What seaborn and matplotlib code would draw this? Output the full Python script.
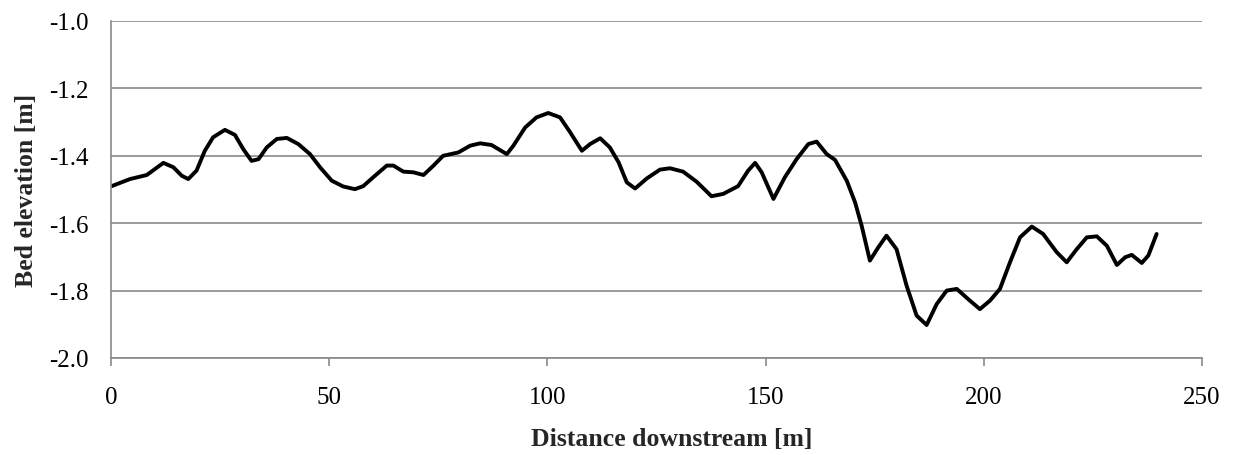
import matplotlib
matplotlib.use("Agg")
import matplotlib.pyplot as plt
import seaborn as sns
import pandas as pd

distance = [0.15, 4.35, 8.2, 10.1, 12.0, 14.3, 16.2, 17.7, 19.6, 21.5, 23.4, 26.1, 28.4,
            30.3, 32.2, 33.8, 35.7, 38.0, 40.3, 42.9, 45.6, 47.9, 50.6, 53.2, 55.9,
            57.8, 60.5, 63.2, 64.7, 67.0, 69.3, 71.6, 73.9, 76.1, 79.6, 82.3, 84.6,
            87.2, 90.7, 92.2, 94.9, 97.5, 100.2, 102.9, 105.2, 107.9, 109.8, 112.1,
            114.3, 116.3, 118.2, 120.1, 122.8, 125.8, 128.1, 131.1, 134.2, 137.6,
            140.3, 143.7, 146.0, 147.6, 149.1, 151.8, 154.4, 157.1, 159.8, 161.7,
            164.0, 165.9, 168.6, 170.5, 172.0, 173.9, 175.8, 177.7, 180.0, 182.3,
            184.6, 186.9, 189.2, 191.5, 193.8, 196.4, 199.1, 201.4, 203.7, 206.0,
            208.3, 211.0, 213.6, 216.7, 219.0, 221.3, 223.6, 225.9, 228.2, 230.5,
            232.4, 233.9, 236.2, 237.7, 239.6]
elevation = [-1.490, -1.469, -1.457, -1.439, -1.421, -1.434, -1.459, -1.469, -1.444,
             -1.385, -1.345, -1.323, -1.338, -1.380, -1.415, -1.410, -1.375, -1.350,
             -1.347, -1.365, -1.395, -1.434, -1.474, -1.491, -1.499, -1.490, -1.459,
             -1.429, -1.429, -1.447, -1.449, -1.457, -1.429, -1.400, -1.390, -1.370,
             -1.363, -1.368, -1.395, -1.370, -1.316, -1.286, -1.273, -1.286, -1.330,
             -1.385, -1.365, -1.348, -1.375, -1.419, -1.479, -1.497, -1.467, -1.441,
             -1.437, -1.447, -1.477, -1.520, -1.513, -1.490, -1.444, -1.421, -1.449,
             -1.528, -1.464, -1.410, -1.365, -1.358, -1.395, -1.412, -1.474, -1.538,
             -1.607, -1.711, -1.672, -1.637, -1.677, -1.785, -1.874, -1.902, -1.840,
             -1.800, -1.795, -1.825, -1.855, -1.830, -1.795, -1.716, -1.642, -1.610,
             -1.632, -1.686, -1.716, -1.677, -1.642, -1.639, -1.667, -1.724, -1.701,
             -1.694, -1.718, -1.696, -1.632]

x_ticks = [0, 50, 100, 150, 200, 250]
y_ticks = [-2.0, -1.8, -1.6, -1.4, -1.2, -1.0]
y_tick_labels = ["-2.0", "-1.8", "-1.6", "-1.4", "-1.2", "-1.0"]

df = pd.DataFrame({"Distance downstream [m]": distance, "Bed elevation [m]": elevation})

sns.set_theme(style="white")
plt.rcParams['font.family'] = ['Liberation Serif', 'DejaVu Serif']

fig = plt.figure(figsize=(12.35, 4.56), dpi=100)
ax = fig.add_axes([111/1235, 1 - 359/456, (1202 - 111)/1235, (359 - 22)/456])

sns.lineplot(data=df, x="Distance downstream [m]", y="Bed elevation [m]", ax=ax,
             color="black", linewidth=2.8, sort=False)
ax.lines[0].set_solid_joinstyle("round")
ax.lines[0].set_solid_capstyle("round")

ax.set_xlim(0, 250)
ax.set_ylim(-2.0, -1.0)
ax.set_xticks(x_ticks)
ax.set_xticklabels([str(t) for t in x_ticks])
ax.set_yticks(y_ticks)
ax.set_yticklabels(y_tick_labels)

ax.yaxis.grid(True, color="#8a8a8a", linewidth=1.2)
ax.xaxis.grid(False)
ax.set_axisbelow(True)

for s in ["top", "right"]:
    ax.spines[s].set_visible(False)
for s in ["left", "bottom"]:
    ax.spines[s].set_color("#8a8a8a")
    ax.spines[s].set_linewidth(1.2)

ax.tick_params(axis="x", which="major", direction="out", length=6, width=1.2,
               color="#8a8a8a", pad=14, labelsize=18, labelcolor="black", bottom=True)
ax.tick_params(axis="y", which="major", direction="out", length=0, width=1.2,
               color="#8a8a8a", pad=16, labelsize=18, labelcolor="black", left=True)

ax.set_xlabel("Distance downstream [m]", fontsize=18.5, fontweight="bold", labelpad=14)
ax.set_ylabel("Bed elevation [m]", fontsize=18.5, fontweight="bold", labelpad=8)
ax.xaxis.label.set_x(0.514)

fig.savefig("out.png", dpi=100, facecolor="white")
